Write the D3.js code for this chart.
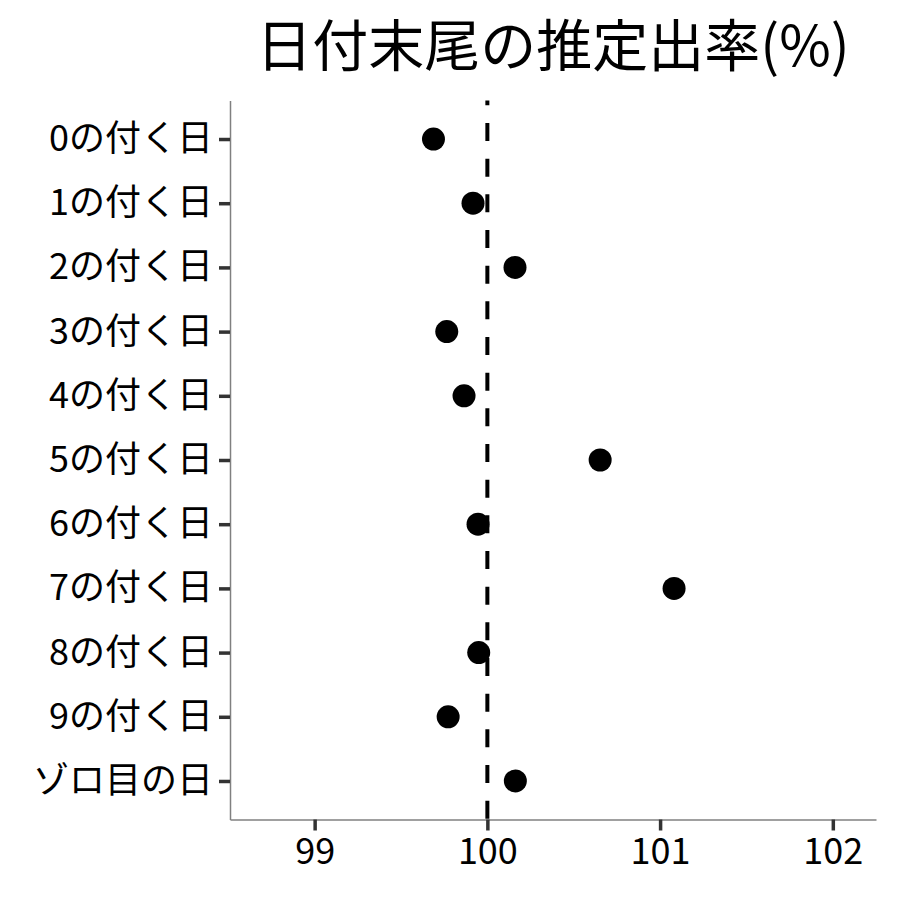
<!DOCTYPE html>
<html>
<head>
<meta charset="utf-8">
<script src="https://cdn.jsdelivr.net/npm/d3@7"></script>
<style>
  body { margin: 0; background: #fff; }
  text { font-family: "Noto Sans CJK JP", "Noto Sans", sans-serif; }
</style>
</head>
<body>
<svg id="chart" width="900" height="900"></svg>
<script>
// categories top to bottom
const categories = ["0の付く日", "1の付く日", "2の付く日", "3の付く日", "4の付く日",
    "5の付く日", "6の付く日", "7の付く日", "8の付く日", "9の付く日", "ゾロ目の日"];
// estimated payout rate (%)
const rates = [99.688, 99.917, 100.16, 99.765, 99.865, 100.653, 99.946, 101.081, 99.95, 99.773, 100.162];
const xTicks = [99, 100, 101, 102];
const refValue = 100;

const svg = d3.select("#chart");
const plotLeft = 230, plotRight = 876, plotTop = 100.5, plotBottom = 819.5;

const x = d3.scaleLinear().domain([98.51, 102.25]).range([plotLeft, plotRight]);
const y = d3.scalePoint().domain(categories).range([plotTop, plotBottom]).padding(0.6);

// title
svg.append("text")
    .attr("x", (plotLeft + plotRight) / 2)
    .attr("y", 66)
    .attr("text-anchor", "middle")
    .attr("font-size", 56)
    .attr("fill", "#000")
    .text("日付末尾の推定出率(%)");

// axes
const yAxis = svg.append("g")
    .attr("transform", `translate(${plotLeft},0)`)
    .call(d3.axisLeft(y).tickSize(11).tickSizeOuter(0).tickPadding(6));

const xAxis = svg.append("g")
    .attr("transform", `translate(0,${plotBottom})`)
    .call(d3.axisBottom(x).tickValues(xTicks).tickFormat(d3.format("d"))
        .tickSize(11).tickSizeOuter(0).tickPadding(8));

[yAxis, xAxis].forEach(g => {
    g.select(".domain").attr("stroke", "#808080").attr("stroke-width", 1.5);
    g.selectAll(".tick line").attr("stroke", "#333").attr("stroke-width", 3.5);
    g.selectAll(".tick text").attr("font-size", 36).attr("fill", "#000")
        .style("font-family", '"Noto Sans CJK JP", sans-serif');
});

// reference line at 100
svg.append("line")
    .attr("x1", x(refValue)).attr("x2", x(refValue))
    .attr("y1", plotTop).attr("y2", plotBottom)
    .attr("stroke", "#000")
    .attr("stroke-width", 4)
    .attr("stroke-dasharray", "18 17.67")
    .attr("stroke-dashoffset", 13.2);

// points
svg.append("g")
    .selectAll("circle")
    .data(categories)
    .join("circle")
    .attr("cx", (d, i) => x(rates[i]))
    .attr("cy", d => y(d))
    .attr("r", 11.5)
    .attr("fill", "#000");
</script>
</body>
</html>
